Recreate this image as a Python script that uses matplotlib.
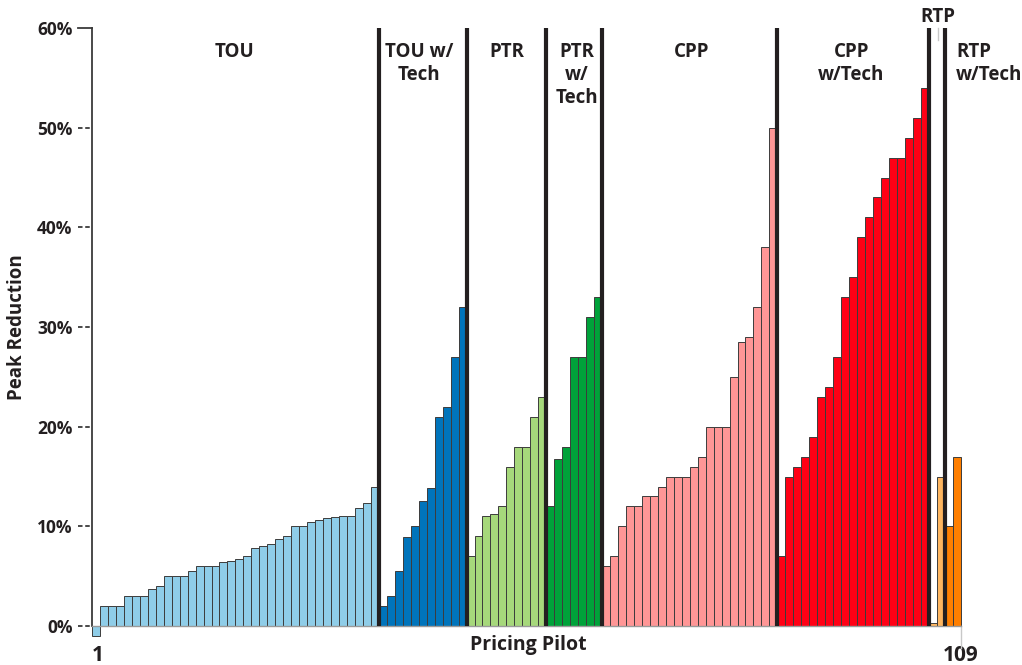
import numpy as np
import matplotlib
matplotlib.use('Agg')
import matplotlib.pyplot as plt

plt.rcParams['font.family'] = ['Open Sans', 'DejaVu Sans']

# Peak reduction (%) per pilot, sorted within each rate design
tou = [-1, 2, 2, 2, 3, 3, 3, 3.7, 4, 5, 5, 5, 5.5, 6, 6, 6, 6.4, 6.5, 6.7, 7,
       7.8, 8, 8.2, 8.7, 9, 10, 10, 10.4, 10.6, 10.8, 10.9, 11, 11, 11.8, 12.3, 14]
tou_tech = [2, 3, 5.5, 8.9, 10, 12.5, 13.8, 21, 22, 27, 32]
ptr = [7, 9, 11, 11.2, 12, 16, 18, 18, 21, 23]
ptr_tech = [12, 16.8, 18, 27, 27, 31, 33]
cpp = [6, 7, 10, 12, 12, 13, 13, 14, 15, 15, 15, 16, 17, 20, 20, 20, 25, 28.5,
       29, 32, 38, 50]
cpp_tech = [7, 15, 16, 17, 19, 23, 24, 27, 33, 35, 39, 41, 43, 45, 47, 47, 49, 51, 54]
rtp = [0.3, 15]
rtp_tech = [10, 17]

groups = [tou, tou_tech, ptr, ptr_tech, cpp, cpp_tech, rtp, rtp_tech]
colors = ['#8fcde8', '#0074bb', '#a6d87b', '#00a23a',
          '#ff9696', '#ff0015', '#fdb55f', '#ff7f00']

# label lines, x position (pilot number), alignment
group_labels = [(['TOU'], 18.4, 'center'), (['TOU w/', 'Tech'], 41.5, 'center'),
                (['PTR'], 52.6, 'center'), (['PTR', 'w/', 'Tech'], 61.3, 'center'),
                (['CPP'], 75.7, 'center'), (['CPP', 'w/Tech'], 95.8, 'center'),
                (['RTP', 'w/Tech'], 108.9, 'left')]

ink = '#231f20'

fig = plt.figure(figsize=(10.22, 6.65), dpi=100)
ax = fig.add_axes([0.090, 0.0586, 0.850, 0.8992])

start = 1
boundaries = []
for vals, col in zip(groups, colors):
    x = np.arange(start, start + len(vals))
    ax.bar(x, vals, width=1.0, color=col, edgecolor='#3c3c3c',
           linewidth=0.7, clip_on=False, zorder=2)
    start += len(vals)
    boundaries.append(start - 0.5)

# thick dividers between rate designs
for b in boundaries[:-1]:
    ax.plot([b, b], [0, 60], color=ink, lw=3, solid_capstyle='butt', zorder=3)

for lines, xpos, ha in group_labels:
    for i, line in enumerate(lines):
        ax.text(xpos, 57.1 - 2.3 * i, line, ha=ha, va='baseline', fontsize=13.5,
                fontweight='bold', color=ink)

ax.text(106.7, 60.6, 'RTP', ha='center', va='baseline', fontsize=13.5,
        fontweight='bold', color=ink, clip_on=False)
ax.plot([106.6, 106.6], [60, 58.8], color='#c8c8c8', lw=1, clip_on=False)

ax.set_xlim(0.5, 109.5)
ax.set_ylim(0, 60)

ax.spines['top'].set_visible(False)
ax.spines['right'].set_visible(False)
ax.spines['left'].set_color('#3a3a3a')
ax.spines['left'].set_linewidth(1.3)
ax.spines['bottom'].set_color('#9a9a9a')
ax.spines['bottom'].set_linewidth(1)

yt = [0, 10, 20, 30, 40, 50, 60]
ax.set_yticks(yt)
ax.set_yticklabels([f'{v}%' for v in yt], fontsize=12.5, fontweight='bold', color=ink)
ax.tick_params(axis='y', length=0, pad=14)
ytrans = ax.get_yaxis_transform()
for v in yt:
    ax.plot([-0.0165, 0], [v, v], transform=ytrans, color='#3a3a3a', lw=1.3,
            linestyle=(0, (2.5, 1.5)) if v < 60 else '-', clip_on=False)

ax.set_xticks([1.2, 109.5])
ax.set_xticklabels(['1', '109'], fontsize=15, fontweight='bold', color=ink)
ax.tick_params(axis='x', length=0, pad=14)
ax.plot([109.5, 109.5], [0, -2.2], color='#c8c8c8', lw=1, clip_on=False)

ax.text(0.502, -0.032, 'Pricing Pilot', transform=ax.transAxes, ha='center',
        va='center', fontsize=14, fontweight='bold', color=ink)
ax.set_ylabel('Peak Reduction', fontsize=13.5, fontweight='bold', color=ink,
              labelpad=7)

fig.savefig('out.png', dpi=100)
